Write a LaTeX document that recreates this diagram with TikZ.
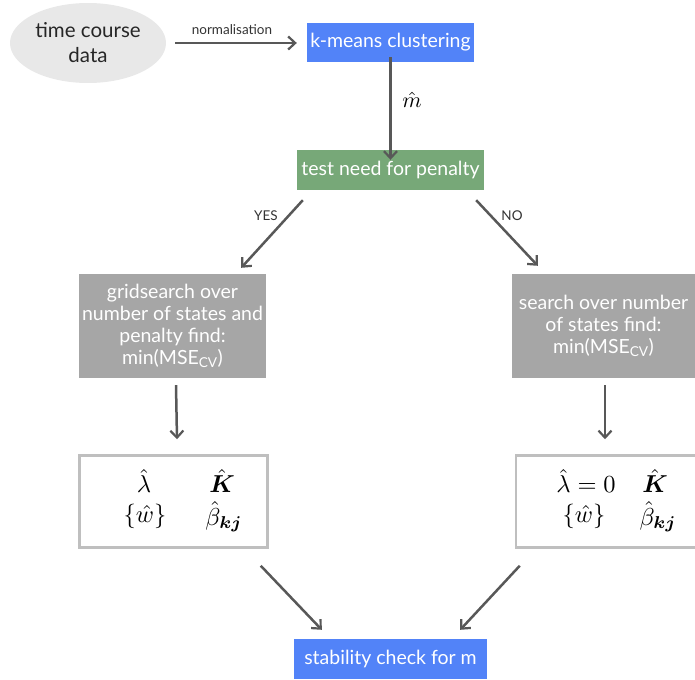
\documentclass[tikz,border=0pt]{standalone}
\usepackage{amsmath}
\usepackage{fontspec}
\setmainfont{Lato}
\usetikzlibrary{arrows.meta,shapes.geometric}
\definecolor{kblue}{HTML}{5283F8}
\definecolor{kgreen}{HTML}{77A878}
\definecolor{kgray}{HTML}{A6A6A6}
\definecolor{kell}{HTML}{E8E8E8}
\definecolor{karrow}{HTML}{585858}
\newcommand{\kmath}[2][2.45]{\scalebox{#1}{$#2$}}
\begin{document}
\begin{tikzpicture}[x=1pt,y=-1pt,
  box/.style={rectangle, inner sep=0pt, text=white, font=\fontsize{19.5}{22}\selectfont, align=center},
  mathbox/.style={rectangle, inner sep=0pt, fill=white, draw=black!25, line width=2.5pt},
  arr/.style={draw=karrow, line width=2.5pt, -{Straight Barb[length=7pt,width=13pt,line width=2.2pt]}},
  lab/.style={font=\fontsize{13.5}{15}\selectfont, text=black!80},
  mth/.style={font=\fontsize{10}{12}\selectfont, inner sep=0pt}]
\useasboundingbox (0,0) rectangle (695,679);
\node[ellipse, fill=kell, minimum width=156, minimum height=80, inner sep=0pt, align=center, font=\fontsize{20.5}{25}\selectfont, text=black!85] (data) at (88,43) {time course\\data};
\node[box, fill=kblue, minimum width=167, minimum height=39] (kmeans) at (390.5,42.5) {k-means clustering};
\node[box, fill=kgreen, minimum width=187, minimum height=40] (test) at (390.5,170) {test need for penalty};
\node[box, fill=kgray, minimum width=187, minimum height=104] (grid) at (172.5,326) {gridsearch over\\number of states and\\penalty find:\\min(MSE\textsubscript{CV})};
\node[box, fill=kgray, minimum width=183, minimum height=104] (search) at (603.5,326) {search over number\\of states find:\\min(MSE\textsubscript{CV})};
\node[mathbox, minimum width=188, minimum height=92] (lbox) at (173.5,501.5) {};
\node[mathbox, minimum width=180, minimum height=92] (rbox) at (606,501.5) {};
\node[box, fill=kblue, minimum width=193, minimum height=40] (stab) at (390.5,659) {stability check for m};
% math contents
\node[mth] (l1) at (144,481) {\kmath{\hat\lambda}};
\node[mth] (l2) at (222,481) {\kmath{\hat{\boldsymbol{K}}}};
\node[mth] (l3) at (145,516) {\kmath{\{\hat w\}}};
\node[mth] (l4) at (224,517) {\kmath{\hat\beta_{\boldsymbol{kj}}}};
\node[mth] (r1) at (586,481) {\kmath{\hat\lambda = 0}};
\node[mth] (r2) at (655,481) {\kmath{\hat{\boldsymbol{K}}}};
\node[mth] (r3) at (584,516) {\kmath{\{\hat w\}}};
\node[mth] (r4) at (658,517) {\kmath{\hat\beta_{\boldsymbol{kj}}}};
% arrows
\draw[arr] (data.east) ++(9,0) coordinate (d0) -- ([xshift=-10]kmeans.west |- d0);
\node[lab] (norm) at (232,30) {normalisation};
\draw[arr] ([yshift=5]kmeans.south) -- ([yshift=-10]test.north);
\node[mth] (mhat) at (412,100) {\kmath[2.2]{\hat m}};
\draw[arr] ([shift={(6,10)}]test.south west) -- ([shift={(-25,-6)}]grid.north east);
\draw[arr] ([shift={(-8,10)}]test.south east) -- ([shift={(26,-8)}]search.north west);
\node[lab] (yes) at (266,216) {YES};
\node[lab] (no) at (512,216) {NO};
\draw[arr] ([shift={(3.5,7)}]grid.south) -- ([shift={(3.5,-15)}]lbox.north);
\draw[arr] ([shift={(1.5,7)}]search.south) -- ([shift={(-1,-15)}]rbox.north);
\draw[arr] ([shift={(-8,17)}]lbox.south east) -- ([shift={(28,-9)}]stab.north west);
\draw[arr] ([shift={(5,17)}]rbox.south west) -- ([shift={(-27,-9)}]stab.north east);
\end{tikzpicture}
\end{document}
